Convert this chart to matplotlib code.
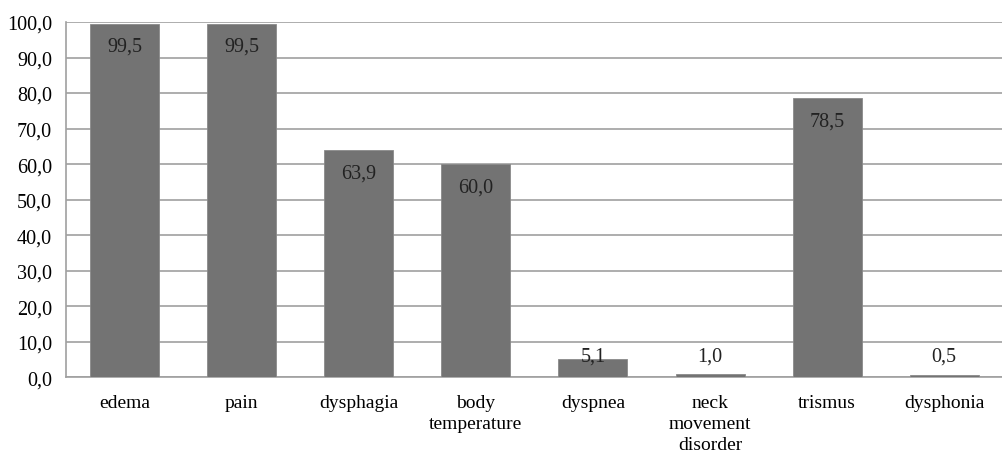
import matplotlib.pyplot as plt

categories = ["edema", "pain", "dysphagia", "body\ntemperature", "dyspnea",
              "neck\nmovement\ndisorder", "trismus", "dysphonia"]
values = [99.5, 99.5, 63.9, 60.0, 5.1, 1.0, 78.5, 0.5]
yticks = [0, 10, 20, 30, 40, 50, 60, 70, 80, 90, 100]

plt.rcParams['font.family'] = ['Liberation Serif', 'DejaVu Serif']

fig = plt.figure(figsize=(10.03, 4.6), dpi=100)
ax = fig.add_axes([0.0658, 0.178, 0.934, 0.772])

x = range(len(categories))
ax.bar(x, values, width=0.59, color='#737373', edgecolor='#8a8a8a', linewidth=0.6, zorder=3)

for i, v in enumerate(values):
    txt = f"{v:.1f}".replace(".", ",")
    if v > 20:
        ax.text(i, v - 6.4, txt, ha='center', va='center', fontsize=14.5, color='#222222', zorder=4)
    else:
        ax.text(i, 5.9, txt, ha='center', va='center', fontsize=14.5, color='#222222', zorder=4)

ax.set_xlim(-0.5, len(categories) - 0.5)
ax.set_ylim(0, 100)
ax.set_yticks(yticks)
ax.set_yticklabels([f"{t:.1f}".replace(".", ",") for t in yticks], fontsize=14.5)
ax.set_xticks(list(x))
ax.set_xticklabels(categories, fontsize=14, va='top', linespacing=1.3)
ax.tick_params(length=0)
ax.tick_params(axis='y', pad=10)
ax.tick_params(axis='x', pad=12)

ax.grid(axis='y', color='#a0a0a0', linewidth=1.2, zorder=0)
for s in ['top', 'right']:
    ax.spines[s].set_visible(False)
ax.spines['left'].set_color('#a0a0a0')
ax.spines['bottom'].set_color('#a0a0a0')
ax.spines['left'].set_linewidth(1.2)
ax.spines['bottom'].set_linewidth(1.2)

plt.savefig("out.png", dpi=100)
